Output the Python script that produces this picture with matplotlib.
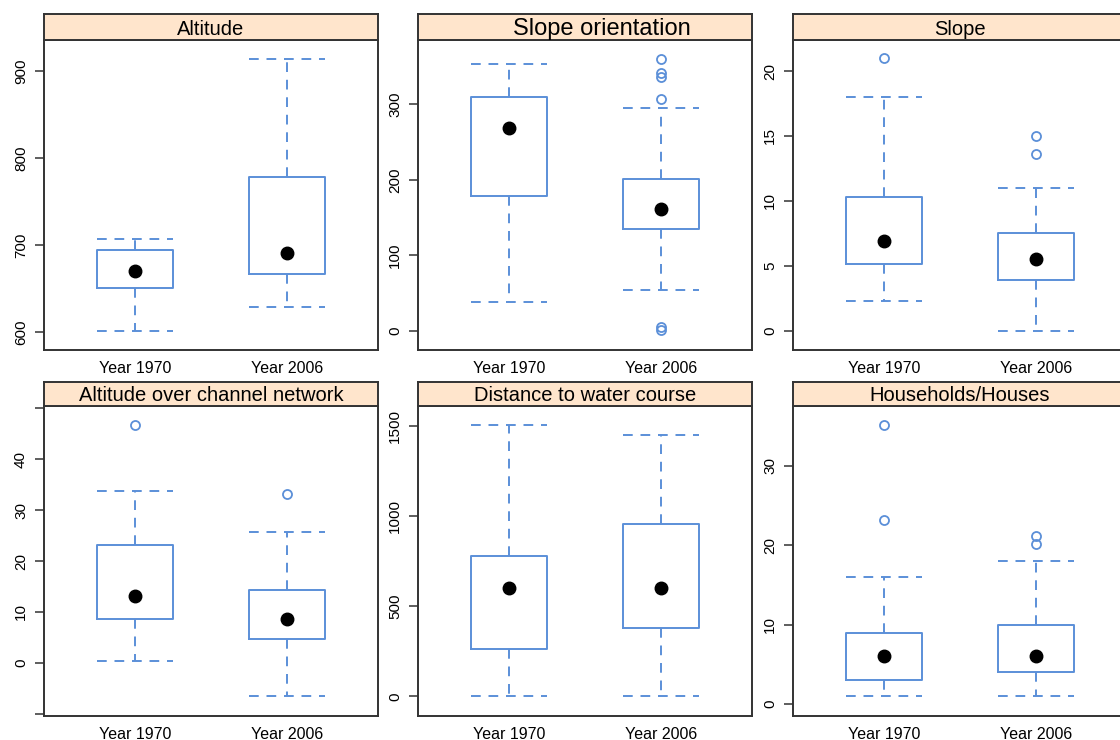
import matplotlib
matplotlib.use('Agg')
import matplotlib.pyplot as plt

plt.rcParams['font.family'] = ['Liberation Sans', 'DejaVu Sans']

groups = ['Year 1970', 'Year 2006']
titles = ['Altitude', 'Slope orientation', 'Slope',
          'Altitude over channel network', 'Distance to water course',
          'Households/Houses']

# five-number summaries per group: (lower whisker, q1, median, q3, upper whisker)
altitude = [(601, 650, 670, 694, 707), (628, 667, 691, 778, 914)]
orientation = [(38, 179, 269, 309, 353), (55, 135, 161, 201, 295)]
slope = [(2.3, 5.1, 6.9, 10.3, 18.0), (0.0, 3.9, 5.5, 7.5, 11.0)]
alt_channel = [(0.3, 8.6, 13.2, 23.2, 33.8), (-6.4, 4.8, 8.6, 14.3, 25.7)]
distance = [(0, 265, 600, 778, 1505), (0, 382, 600, 958, 1452)]
households = [(1, 3, 6, 9, 16), (1, 4, 6, 10, 18)]

altitude_out = [[], []]
orientation_out = [[], [360, 342, 336, 307, 6, 1]]
slope_out = [[21.0], [15.0, 13.6]]
alt_channel_out = [[46.7], [33.1]]
distance_out = [[], []]
households_out = [[35.1, 23.1], [21.1, 20.2]]

summaries = [altitude, orientation, slope, alt_channel, distance, households]
outliers = [altitude_out, orientation_out, slope_out, alt_channel_out,
            distance_out, households_out]

ylims = [(579, 936), (-25, 385), (-1.5, 22.4), (-10.4, 50.4), (-109, 1611), (-1.5, 37.5)]
yticks = [[600, 700, 800, 900], [0, 100, 200, 300], [0, 5, 10, 15, 20],
          [-10, 0, 10, 20, 30, 40, 50], [0, 500, 1000, 1500], [0, 10, 20, 30]]
ytick_labels = [['600', '700', '800', '900'], ['0', '100', '200', '300'],
                ['0', '5', '10', '15', '20'],
                ['', '0', '10', '20', '30', '40', ''],
                ['0', '500', '1000', '1500'], ['0', '10', '20', '30']]
title_size = [14.5, 17, 14.5, 14.5, 14.5, 14.5]
title_x = [0.5, 0.55, 0.5, 0.5, 0.5, 0.5]

W, H = 1120, 740
blue = '#5b8fd8'
frame = '#333333'
strip_col = '#ffe5cc'

fig = plt.figure(figsize=(W / 100., H / 100.), dpi=100)

def px_axes(left, top, width, height):
    return fig.add_axes([left / W, 1 - (top + height) / H, width / W, height / H])

lefts = [44, 418, 793]
rows = [(14, 26, 40, 310), (382, 24, 406, 310)]
dash = (0, (5, 4))

for k in range(6):
    r, c = divmod(k, 3)
    stop, sh, dtop, dh = rows[r]
    ax = px_axes(lefts[c], dtop, 334, dh)
    st = px_axes(lefts[c], stop, 334, sh)

    stats = []
    for g in range(2):
        lo, q1, med, q3, hi = summaries[k][g]
        stats.append(dict(whislo=lo, q1=q1, med=med, q3=q3, whishi=hi,
                          fliers=outliers[k][g], label=groups[g]))
    ax.bxp(stats, positions=[1, 2], widths=0.5, capwidths=0.5,
           boxprops=dict(color=blue, lw=1.4),
           whiskerprops=dict(color=blue, lw=1.4, linestyle=dash),
           capprops=dict(color=blue, lw=1.4, linestyle=dash),
           medianprops=dict(linestyle='none'),
           flierprops=dict(marker='o', markersize=6.5, markerfacecolor='none',
                           markeredgecolor=blue, markeredgewidth=1.3))
    meds = [s['med'] for s in stats]
    ax.plot([1, 2], meds, 'o', color='black', ms=9, zorder=5)

    ax.set_xlim(0.4, 2.6)
    ax.set_ylim(*ylims[k])
    ax.set_xticks([1, 2])
    ax.set_xticklabels(groups, fontsize=11.5)
    ax.set_yticks(yticks[k])
    ax.set_yticklabels(ytick_labels[k], fontsize=11, rotation=90, va='center')
    ax.tick_params(axis='x', length=0, pad=8)
    ax.tick_params(axis='y', direction='out', length=6.5, width=1.1, color=frame, pad=5)
    for sp in ax.spines.values():
        sp.set_color(frame)
        sp.set_linewidth(1.4)

    st.set_facecolor(strip_col)
    st.set_xticks([])
    st.set_yticks([])
    for sp in st.spines.values():
        sp.set_color(frame)
        sp.set_linewidth(1.4)
    st.text(title_x[k], 0.42, titles[k], transform=st.transAxes, ha='center',
            va='center', fontsize=title_size[k])

fig.savefig('out.png', dpi=100)
plt.close()
